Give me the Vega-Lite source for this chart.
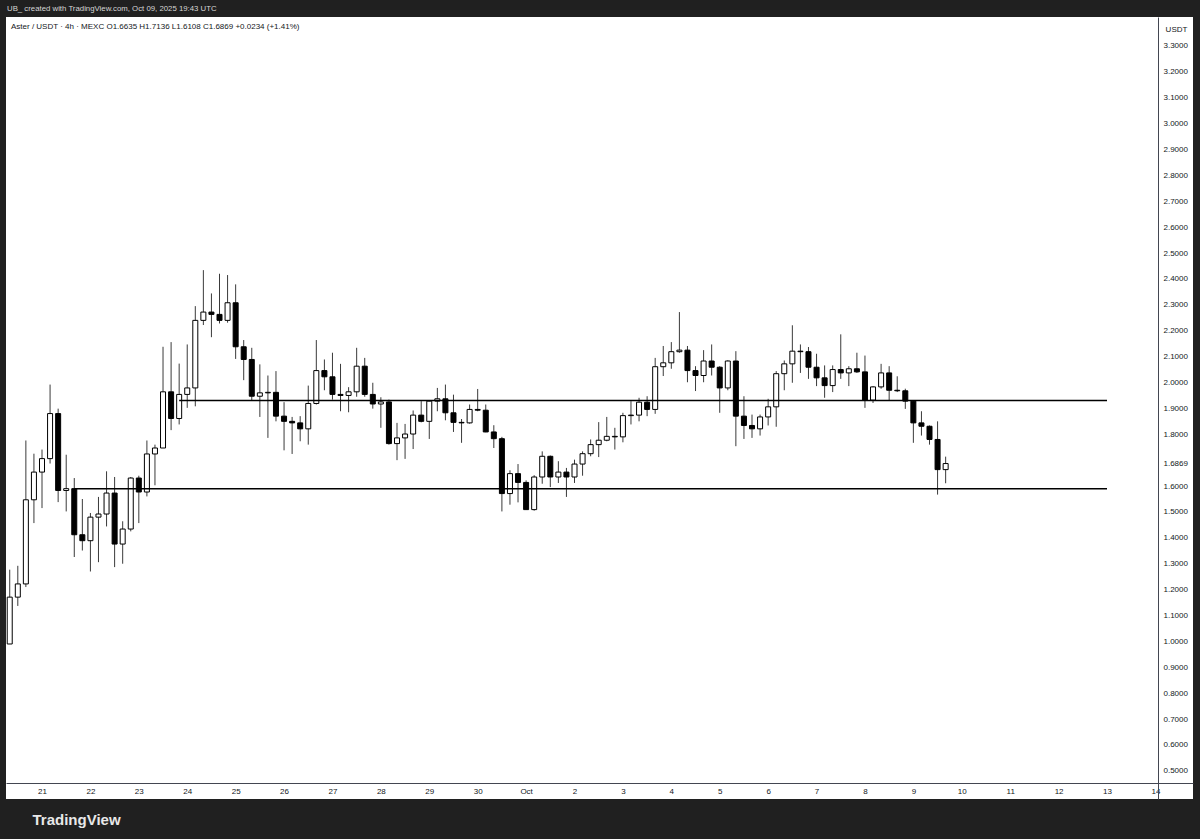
{
  "$schema": "https://vega.github.io/schema/vega-lite/v6.json",
  "width": 1187,
  "height": 782,
  "autosize": {"type": "none"},
  "padding": {"left": 6, "top": 17, "right": 7, "bottom": 40},
  "background": "#202020",
  "title": {
    "text": "UB_ created with TradingView.com, Oct 09, 2025 19:43 UTC",
    "anchor": "start", "frame": "group", "offset": 4, "dx": 1,
    "font": "Liberation Sans", "fontSize": 7.8, "fontWeight": "normal", "color": "#d6d6d6"
  },
  "config": {
    "view": {"fill": "#ffffff", "stroke": null},
    "font": "Liberation Sans",
    "axis": {"labelOverlap": false, "labelFlush": false, "grid": false, "ticks": false}
  },
  "datasets": {
    "candles": [
      {"t":"2025-09-20T08:00:00Z","o":0.99,"h":1.277,"l":0.99,"c":1.171},
      {"t":"2025-09-20T12:00:00Z","o":1.171,"h":1.292,"l":1.137,"c":1.222},
      {"t":"2025-09-20T16:00:00Z","o":1.222,"h":1.776,"l":1.21,"c":1.547},
      {"t":"2025-09-20T20:00:00Z","o":1.547,"h":1.725,"l":1.457,"c":1.654},
      {"t":"2025-09-21T00:00:00Z","o":1.654,"h":1.741,"l":1.515,"c":1.706},
      {"t":"2025-09-21T04:00:00Z","o":1.706,"h":1.992,"l":1.687,"c":1.88},
      {"t":"2025-09-21T08:00:00Z","o":1.88,"h":1.899,"l":1.538,"c":1.583},
      {"t":"2025-09-21T12:00:00Z","o":1.583,"h":1.721,"l":1.502,"c":1.59},
      {"t":"2025-09-21T16:00:00Z","o":1.59,"h":1.631,"l":1.326,"c":1.412},
      {"t":"2025-09-21T20:00:00Z","o":1.412,"h":1.55,"l":1.351,"c":1.389},
      {"t":"2025-09-22T00:00:00Z","o":1.389,"h":1.496,"l":1.27,"c":1.48},
      {"t":"2025-09-22T04:00:00Z","o":1.48,"h":1.558,"l":1.306,"c":1.492},
      {"t":"2025-09-22T08:00:00Z","o":1.492,"h":1.657,"l":1.444,"c":1.573},
      {"t":"2025-09-22T12:00:00Z","o":1.573,"h":1.635,"l":1.287,"c":1.376},
      {"t":"2025-09-22T16:00:00Z","o":1.376,"h":1.464,"l":1.3,"c":1.434},
      {"t":"2025-09-22T20:00:00Z","o":1.434,"h":1.635,"l":1.425,"c":1.631},
      {"t":"2025-09-23T00:00:00Z","o":1.631,"h":1.64,"l":1.457,"c":1.577},
      {"t":"2025-09-23T04:00:00Z","o":1.577,"h":1.776,"l":1.56,"c":1.724},
      {"t":"2025-09-23T08:00:00Z","o":1.724,"h":1.76,"l":1.603,"c":1.747},
      {"t":"2025-09-23T12:00:00Z","o":1.747,"h":2.138,"l":1.747,"c":1.964},
      {"t":"2025-09-23T16:00:00Z","o":1.964,"h":2.156,"l":1.816,"c":1.861},
      {"t":"2025-09-23T20:00:00Z","o":1.861,"h":2.073,"l":1.838,"c":1.954},
      {"t":"2025-09-24T00:00:00Z","o":1.954,"h":2.147,"l":1.902,"c":1.979},
      {"t":"2025-09-24T04:00:00Z","o":1.979,"h":2.295,"l":1.908,"c":2.24},
      {"t":"2025-09-24T08:00:00Z","o":2.24,"h":2.434,"l":2.222,"c":2.272},
      {"t":"2025-09-24T12:00:00Z","o":2.272,"h":2.344,"l":2.175,"c":2.263},
      {"t":"2025-09-24T16:00:00Z","o":2.263,"h":2.42,"l":2.228,"c":2.24},
      {"t":"2025-09-24T20:00:00Z","o":2.24,"h":2.415,"l":2.231,"c":2.308},
      {"t":"2025-09-25T00:00:00Z","o":2.308,"h":2.379,"l":2.091,"c":2.138},
      {"t":"2025-09-25T04:00:00Z","o":2.138,"h":2.164,"l":2.009,"c":2.089},
      {"t":"2025-09-25T08:00:00Z","o":2.089,"h":2.134,"l":1.932,"c":1.947},
      {"t":"2025-09-25T12:00:00Z","o":1.947,"h":2.07,"l":1.867,"c":1.96},
      {"t":"2025-09-25T16:00:00Z","o":1.96,"h":2.027,"l":1.786,"c":1.962},
      {"t":"2025-09-25T20:00:00Z","o":1.962,"h":2.044,"l":1.85,"c":1.87},
      {"t":"2025-09-26T00:00:00Z","o":1.87,"h":1.924,"l":1.738,"c":1.85},
      {"t":"2025-09-26T04:00:00Z","o":1.85,"h":1.867,"l":1.724,"c":1.844},
      {"t":"2025-09-26T08:00:00Z","o":1.844,"h":1.87,"l":1.773,"c":1.821},
      {"t":"2025-09-26T12:00:00Z","o":1.821,"h":1.988,"l":1.76,"c":1.919},
      {"t":"2025-09-26T16:00:00Z","o":1.919,"h":2.164,"l":1.915,"c":2.046},
      {"t":"2025-09-26T20:00:00Z","o":2.046,"h":2.089,"l":1.97,"c":2.022},
      {"t":"2025-09-27T00:00:00Z","o":2.022,"h":2.115,"l":1.934,"c":1.954},
      {"t":"2025-09-27T04:00:00Z","o":1.954,"h":2.072,"l":1.889,"c":1.95},
      {"t":"2025-09-27T08:00:00Z","o":1.95,"h":1.982,"l":1.885,"c":1.964},
      {"t":"2025-09-27T12:00:00Z","o":1.964,"h":2.134,"l":1.945,"c":2.063},
      {"t":"2025-09-27T16:00:00Z","o":2.063,"h":2.095,"l":1.945,"c":1.954},
      {"t":"2025-09-27T20:00:00Z","o":1.954,"h":1.999,"l":1.899,"c":1.917},
      {"t":"2025-09-28T00:00:00Z","o":1.917,"h":1.943,"l":1.825,"c":1.925},
      {"t":"2025-09-28T04:00:00Z","o":1.925,"h":1.934,"l":1.76,"c":1.764},
      {"t":"2025-09-28T08:00:00Z","o":1.764,"h":1.844,"l":1.7,"c":1.786},
      {"t":"2025-09-28T12:00:00Z","o":1.786,"h":1.84,"l":1.705,"c":1.801},
      {"t":"2025-09-28T16:00:00Z","o":1.801,"h":1.892,"l":1.743,"c":1.874},
      {"t":"2025-09-28T20:00:00Z","o":1.874,"h":1.928,"l":1.846,"c":1.85},
      {"t":"2025-09-29T00:00:00Z","o":1.85,"h":1.93,"l":1.782,"c":1.928},
      {"t":"2025-09-29T04:00:00Z","o":1.928,"h":1.979,"l":1.889,"c":1.937},
      {"t":"2025-09-29T08:00:00Z","o":1.937,"h":1.992,"l":1.854,"c":1.883},
      {"t":"2025-09-29T12:00:00Z","o":1.883,"h":1.953,"l":1.809,"c":1.846},
      {"t":"2025-09-29T16:00:00Z","o":1.846,"h":1.859,"l":1.767,"c":1.844},
      {"t":"2025-09-29T20:00:00Z","o":1.844,"h":1.915,"l":1.841,"c":1.896},
      {"t":"2025-09-30T00:00:00Z","o":1.896,"h":1.975,"l":1.889,"c":1.893},
      {"t":"2025-09-30T04:00:00Z","o":1.893,"h":1.915,"l":1.808,"c":1.809},
      {"t":"2025-09-30T08:00:00Z","o":1.809,"h":1.835,"l":1.747,"c":1.783},
      {"t":"2025-09-30T12:00:00Z","o":1.783,"h":1.79,"l":1.502,"c":1.571},
      {"t":"2025-09-30T16:00:00Z","o":1.571,"h":1.661,"l":1.528,"c":1.648},
      {"t":"2025-09-30T20:00:00Z","o":1.648,"h":1.685,"l":1.537,"c":1.614},
      {"t":"2025-10-01T00:00:00Z","o":1.614,"h":1.622,"l":1.509,"c":1.509},
      {"t":"2025-10-01T04:00:00Z","o":1.509,"h":1.642,"l":1.505,"c":1.635},
      {"t":"2025-10-01T08:00:00Z","o":1.635,"h":1.734,"l":1.609,"c":1.715},
      {"t":"2025-10-01T12:00:00Z","o":1.715,"h":1.718,"l":1.596,"c":1.635},
      {"t":"2025-10-01T16:00:00Z","o":1.635,"h":1.696,"l":1.612,"c":1.654},
      {"t":"2025-10-01T20:00:00Z","o":1.654,"h":1.67,"l":1.558,"c":1.635},
      {"t":"2025-10-02T00:00:00Z","o":1.635,"h":1.702,"l":1.612,"c":1.685},
      {"t":"2025-10-02T04:00:00Z","o":1.685,"h":1.734,"l":1.64,"c":1.725},
      {"t":"2025-10-02T08:00:00Z","o":1.725,"h":1.78,"l":1.715,"c":1.76},
      {"t":"2025-10-02T12:00:00Z","o":1.76,"h":1.847,"l":1.712,"c":1.777},
      {"t":"2025-10-02T16:00:00Z","o":1.777,"h":1.867,"l":1.773,"c":1.792},
      {"t":"2025-10-02T20:00:00Z","o":1.792,"h":1.825,"l":1.741,"c":1.79},
      {"t":"2025-10-03T00:00:00Z","o":1.79,"h":1.883,"l":1.769,"c":1.872},
      {"t":"2025-10-03T04:00:00Z","o":1.872,"h":1.928,"l":1.838,"c":1.874},
      {"t":"2025-10-03T08:00:00Z","o":1.874,"h":1.941,"l":1.85,"c":1.924},
      {"t":"2025-10-03T12:00:00Z","o":1.924,"h":1.947,"l":1.87,"c":1.896},
      {"t":"2025-10-03T16:00:00Z","o":1.896,"h":2.095,"l":1.879,"c":2.061},
      {"t":"2025-10-03T20:00:00Z","o":2.061,"h":2.141,"l":2.025,"c":2.076},
      {"t":"2025-10-04T00:00:00Z","o":2.076,"h":2.156,"l":2.053,"c":2.119},
      {"t":"2025-10-04T04:00:00Z","o":2.119,"h":2.272,"l":2.115,"c":2.125},
      {"t":"2025-10-04T08:00:00Z","o":2.125,"h":2.141,"l":2.001,"c":2.046},
      {"t":"2025-10-04T12:00:00Z","o":2.046,"h":2.063,"l":1.967,"c":2.027},
      {"t":"2025-10-04T16:00:00Z","o":2.027,"h":2.125,"l":2.001,"c":2.083},
      {"t":"2025-10-04T20:00:00Z","o":2.083,"h":2.147,"l":2.027,"c":2.059},
      {"t":"2025-10-05T00:00:00Z","o":2.059,"h":2.063,"l":1.883,"c":1.979},
      {"t":"2025-10-05T04:00:00Z","o":1.979,"h":2.086,"l":1.97,"c":2.083},
      {"t":"2025-10-05T08:00:00Z","o":2.083,"h":2.121,"l":1.754,"c":1.87},
      {"t":"2025-10-05T12:00:00Z","o":1.87,"h":1.947,"l":1.782,"c":1.834},
      {"t":"2025-10-05T16:00:00Z","o":1.834,"h":1.876,"l":1.786,"c":1.821},
      {"t":"2025-10-05T20:00:00Z","o":1.821,"h":1.876,"l":1.795,"c":1.867},
      {"t":"2025-10-06T00:00:00Z","o":1.867,"h":1.937,"l":1.834,"c":1.906},
      {"t":"2025-10-06T04:00:00Z","o":1.906,"h":2.044,"l":1.829,"c":2.034},
      {"t":"2025-10-06T08:00:00Z","o":2.034,"h":2.085,"l":1.97,"c":2.072},
      {"t":"2025-10-06T12:00:00Z","o":2.072,"h":2.221,"l":1.999,"c":2.121},
      {"t":"2025-10-06T16:00:00Z","o":2.121,"h":2.147,"l":2.037,"c":2.119},
      {"t":"2025-10-06T20:00:00Z","o":2.119,"h":2.137,"l":2.014,"c":2.059},
      {"t":"2025-10-07T00:00:00Z","o":2.059,"h":2.111,"l":1.986,"c":2.018},
      {"t":"2025-10-07T04:00:00Z","o":2.018,"h":2.066,"l":1.941,"c":1.988},
      {"t":"2025-10-07T08:00:00Z","o":1.988,"h":2.066,"l":1.963,"c":2.05},
      {"t":"2025-10-07T12:00:00Z","o":2.05,"h":2.186,"l":2.014,"c":2.037},
      {"t":"2025-10-07T16:00:00Z","o":2.037,"h":2.063,"l":1.986,"c":2.053},
      {"t":"2025-10-07T20:00:00Z","o":2.053,"h":2.115,"l":2.037,"c":2.041},
      {"t":"2025-10-08T00:00:00Z","o":2.041,"h":2.104,"l":1.902,"c":1.932},
      {"t":"2025-10-08T04:00:00Z","o":1.932,"h":1.986,"l":1.921,"c":1.983},
      {"t":"2025-10-08T08:00:00Z","o":1.983,"h":2.072,"l":1.976,"c":2.037},
      {"t":"2025-10-08T12:00:00Z","o":2.037,"h":2.063,"l":1.932,"c":1.97},
      {"t":"2025-10-08T16:00:00Z","o":1.97,"h":2.024,"l":1.963,"c":1.968},
      {"t":"2025-10-08T20:00:00Z","o":1.968,"h":1.976,"l":1.898,"c":1.928},
      {"t":"2025-10-09T00:00:00Z","o":1.928,"h":1.932,"l":1.767,"c":1.844},
      {"t":"2025-10-09T04:00:00Z","o":1.844,"h":1.889,"l":1.795,"c":1.831},
      {"t":"2025-10-09T08:00:00Z","o":1.831,"h":1.834,"l":1.76,"c":1.78},
      {"t":"2025-10-09T12:00:00Z","o":1.78,"h":1.85,"l":1.567,"c":1.6635},
      {"t":"2025-10-09T16:00:00Z","o":1.6635,"h":1.7136,"l":1.6108,"c":1.6869}
    ],
    "levels": [
      {"start":"2025-09-23T20:00:00Z","end":"2025-10-13T00:00:00Z","price":1.93},
      {"start":"2025-09-21T16:00:00Z","end":"2025-10-13T00:00:00Z","price":1.59}
    ],
    "header": [
      {"label":"Aster / USDT · 4h · MEXC  O1.6635  H1.7136  L1.6108  C1.6869  +0.0234 (+1.41%)"}
    ]
  },
  "layer": [
    {
      "data": {"name": "candles"},
      "mark": {"type": "rule", "color": "#3a3a3a", "strokeWidth": 1},
      "encoding": {
        "x": {
          "field": "t", "type": "temporal",
          "scale": {"type": "utc", "padding": 0, "nice": false, "domain": [
            {"year": 2025, "month": 9, "date": 20, "hours": 6, "minutes": 9, "utc": true},
            {"year": 2025, "month": 10, "date": 14, "hours": 18, "minutes": 38, "utc": true}
          ]},
          "axis": {
            "orient": "bottom", "offset": -16,
            "domainColor": "#434651", "domainWidth": 1,
            "tickCount": {"interval": "day", "step": 1},
            "labelExpr": "utcdate(datum.value) == 1 ? utcFormat(datum.value, '%b') : utcFormat(datum.value, '%-d')",
            "labelFontSize": 8, "labelColor": "#131722", "labelPadding": 4,
            "title": "TradingView", "titleColor": "#e8e8e8", "titleFontSize": 15, "titleFontWeight": 600,
            "titleAnchor": "start", "titleAlign": "left", "titleBaseline": "middle", "titleX": 26, "titleY": 36
          }
        },
        "y": {
          "field": "l", "type": "quantitative",
          "scale": {"domain": [0.3913, 3.4117], "nice": false, "zero": false},
          "axis": {
            "orient": "right", "offset": -35, "tickCount": 60,
            "domainColor": "#434651", "domainWidth": 1,
            "values": [0.5,0.6,0.7,0.8,0.9,1.0,1.1,1.2,1.3,1.4,1.5,1.6,1.6869,1.8,1.9,2.0,2.1,2.2,2.3,2.4,2.5,2.6,2.7,2.8,2.9,3.0,3.1,3.2,3.3],
            "format": ".4f", "labelFontSize": 8, "labelColor": "#131722", "labelPadding": 5,
            "title": "USDT", "titleAngle": 0, "titleFontSize": 8, "titleFontWeight": "normal", "titleColor": "#131722",
            "titleX": 18, "titleY": 12, "titleAlign": "center", "titleBaseline": "middle"
          }
        },
        "y2": {"field": "h"}
      }
    },
    {
      "data": {"name": "candles"},
      "mark": {"type": "bar", "size": 5, "stroke": "#000000", "strokeWidth": 1},
      "encoding": {
        "x": {"field": "t", "type": "temporal"},
        "y": {"field": "o", "type": "quantitative"},
        "y2": {"field": "c"},
        "color": {"condition": {"test": "datum.c >= datum.o", "value": "#ffffff"}, "value": "#000000"}
      }
    },
    {
      "data": {"name": "levels"},
      "mark": {"type": "rule", "color": "#000000", "strokeWidth": 1.5},
      "encoding": {
        "x": {"field": "start", "type": "temporal"},
        "x2": {"field": "end"},
        "y": {"field": "price", "type": "quantitative"}
      }
    },
    {
      "data": {"name": "header"},
      "mark": {"type": "text", "align": "left", "baseline": "middle", "dx": 5, "fontSize": 8, "color": "#131722"},
      "encoding": {
        "x": {"datum": {"year": 2025, "month": 9, "date": 20, "hours": 6, "minutes": 9, "utc": true}, "type": "temporal"},
        "y": {"datum": 3.373, "type": "quantitative"},
        "text": {"field": "label"}
      }
    }
  ]
}
